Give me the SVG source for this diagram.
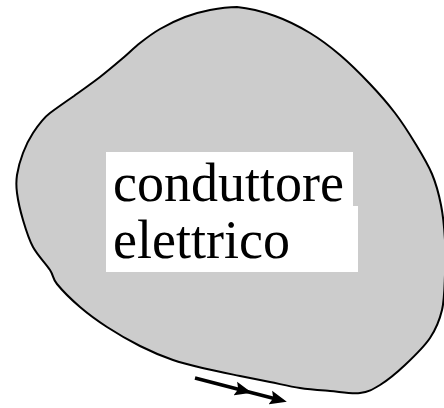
<svg xmlns="http://www.w3.org/2000/svg" width="444" height="408" viewBox="0 0 444 408">
<style>
.body{fill:#cccccc;stroke:#000;stroke-width:2}
.bg{fill:#fff}
.lbl{font-size:54px;fill:#000}
.shaft{stroke:#000;stroke-width:3.5;fill:none}
</style>
<defs>
<marker id="ah" markerUnits="userSpaceOnUse" markerWidth="18" markerHeight="16" refX="11" refY="8" orient="auto">
<path d="M0,1 L17,8 L0,15 L3,8 z" fill="#000"/>
</marker>
</defs>
<g id="conductor">
<path class="body" d="M237,7 C247.83,8 262.83,11.67 275,16 C287.17,20.33 299.17,26.5 310,33 C320.83,39.5 330,46.5 340,55 C350,63.5 360.83,74.33 370,84 C379.17,93.67 387.5,103.17 395,113 C402.5,122.83 408.83,132.83 415,143 C421.17,153.17 427.67,163.67 432,174 C436.33,184.33 438.83,194 441,205 C443.17,216 444.33,228.33 445,240 C445.67,251.67 445.5,263.33 445,275 C444.5,286.67 444.5,299.5 442,310 C439.5,320.5 436.17,328.83 430,338 C423.83,347.17 413.33,357.17 405,365 C396.67,372.83 387.5,380.33 380,385 C372.5,389.67 368.33,392 360,393 C351.67,394 340,391.83 330,391 C320,390.17 310,389.5 300,388 C290,386.5 280,384 270,382 C260,380 250.5,378.17 240,376 C229.5,373.83 218.17,371.67 207,369 C195.83,366.33 184.17,363.83 173,360 C161.83,356.17 151,351.5 140,346 C129,340.5 117,333.5 107,327 C97,320.5 88.33,314.17 80,307 C71.67,299.83 62,290.17 57,284 C52,277.83 54,276.17 50,270 C46,263.83 37.5,255.33 33,247 C28.5,238.67 25.67,229 23,220 C20.33,211 18,200.5 17,193 C16,185.5 16,181.67 17,175 C18,168.33 20.33,160 23,153 C25.67,146 28.5,139.83 33,133 C37.5,126.17 43.33,118 50,113 C58,107 66,101.5 74,96 C82,90 91.67,83.5 100,77 C108.33,70.5 116.33,63.67 123,58 C129.67,52.33 133.83,47.83 140,43 C146.17,38.17 152.5,33.33 160,29 C167.5,24.67 176.67,20.17 185,17 C193.33,13.83 201.33,11.67 210,10 C218.67,8.33 228.33,7 237,7 Z"/>
</g>
<g id="label">
<rect class="bg" x="106" y="152" width="247" height="54"/>
<rect class="bg" x="106" y="206" width="252" height="66"/>
<text class="lbl" font-family="'Liberation Serif', 'DejaVu Serif', 'Times New Roman', serif" x="113" y="201">conduttore</text>
<text class="lbl" font-family="'Liberation Serif', 'DejaVu Serif', 'Times New Roman', serif" x="113" y="258">elettrico</text>
</g>
<g id="connectors">
<path class="shaft" d="M195,378 L246,391.2" marker-end="url(#ah)"/>
<path class="shaft" d="M246,391.2 L281,400.3" marker-end="url(#ah)"/>
</g>
</svg>
